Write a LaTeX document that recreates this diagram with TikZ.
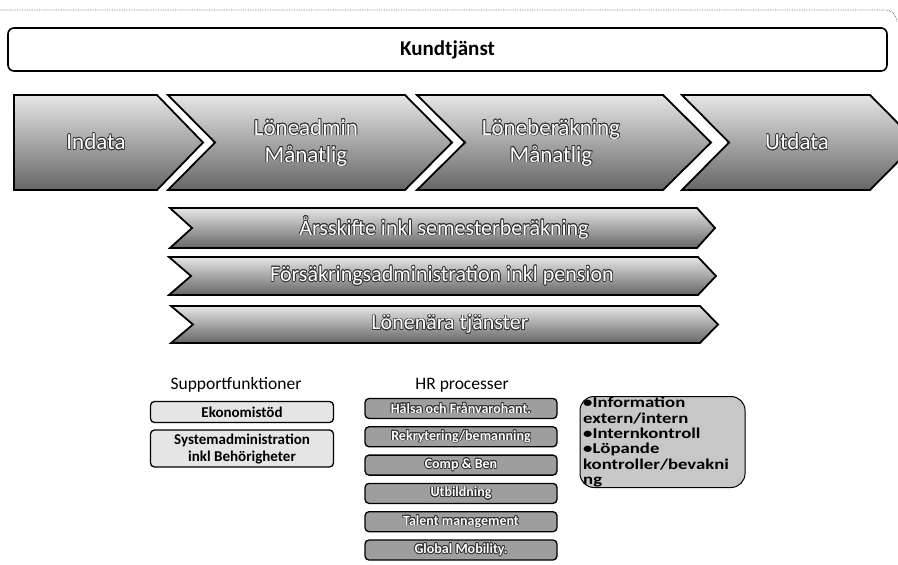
\documentclass[tikz,border=0pt]{standalone}
\usepackage{fontspec}
\setmainfont{Carlito}
\newfontfamily\bredfont[FakeStretch=1.25]{Carlito}
\usepackage[copies]{contour}
\contourlength{0.7pt}
\usetikzlibrary{shapes,backgrounds,calc}

\newcommand{\kont}[1]{\contour{black!80}{#1}}

\tikzset{
	pil/.style={draw=black, line width=1.8pt, line join=miter, top color=black!10, bottom color=black!60},
	piltext/.style={text=white, align=center, font=\fontsize{23}{27}\selectfont},
	bartext/.style={text=white, font=\fontsize{22}{26}\selectfont},
	rubrik/.style={font=\fontsize{17.5}{20}\selectfont},
	stodbox/.style={draw, line width=1.3pt, rounded corners=4pt, fill=black!10, minimum width=183pt, align=center, inner sep=1pt, font=\bfseries\fontsize{15}{17}\selectfont},
	hrbox/.style={draw, line width=1.3pt, rounded corners=4pt, fill=black!38, minimum width=192pt, minimum height=20pt, inner sep=1pt, text=white, font=\bfseries\fontsize{14}{16}\selectfont},
}

\begin{document}
\begin{tikzpicture}[x=1pt,y=-1pt]
	\useasboundingbox (0,0) rectangle (898,565);
	
	\draw[black!60, densely dotted, line width=0.7pt] (0,10) -- (884,10) .. controls (892,10) and (896,14) .. (897,22);
	
	\node[draw, line width=1.6pt, rounded corners=6pt, minimum width=879pt, minimum height=43pt, font=\bfseries\fontsize{21}{24}\selectfont] (kund) at (447.5,49.5) {Kundtjänst};
	
	% processkedjan
	\draw[pil] (14,95) -- (157,95) -- (203,142.5) -- (157,190) -- (14,190) -- cycle;
	\draw[pil] (168,95) -- (405,95) -- (452,142.5) -- (405,190) -- (168,190) -- (215,142.5) -- cycle;
	\draw[pil] (417,95) -- (663,95) -- (711,142.5) -- (663,190) -- (417,190) -- (465,142.5) -- cycle;
	\draw[pil] (682,95) -- (870,95) -- (917,142.5) -- (870,190) -- (682,190) -- (729,142.5) -- cycle;
	
		\node[piltext] (indata) at (96,142) {\kont{Indata}};
		\node[piltext] (loneadmin) at (306,143) {\kont{Löneadmin}\\\kont{Månatlig}};
		\node[piltext] (loneber) at (551,143) {\kont{Löneberäkning}\\\kont{Månatlig}};
		\node[piltext] (utdata) at (797,142) {\kont{Utdata}};
	
	% langa pilar
	\draw[pil] (170,208) -- (697,208) -- (715,228) -- (697,248) -- (170,248) -- (192,228) -- cycle;
	\draw[pil] (169,257) -- (698,257) -- (716,276) -- (698,295) -- (169,295) -- (191,276) -- cycle;
	\draw[pil] (171,306) -- (700,306) -- (718,324.5) -- (700,343) -- (171,343) -- (193,324.5) -- cycle;
	
		\node[bartext] (arsskifte) at (444,228) {\kont{Årsskifte inkl semesterberäkning}};
		\node[bartext] (forsakring) at (442,276) {\kont{Försäkringsadministration inkl pension}};
		\node[bartext] (lonenara) at (450,324.5) {\kont{Lönenära tjänster}};
	
	% support
	\node[rubrik] (support) at (236,385) {Supportfunktioner};
	\node[stodbox, minimum height=21pt] (ekonomi) at (242,412) {Ekonomistöd};
	\node[stodbox, minimum height=37pt] (sysadm) at (242,448.5) {Systemadministration\\inkl Behörigheter};
	
	% HR
	\node[rubrik] (hr) at (462,385) {HR processer};
	\foreach \txt [count=\i] in {Hälsa och Frånvarohant., Rekrytering/bemanning, Comp \& Ben, Utbildning, Talent management, Global Mobility.}
		\node[hrbox] (hr\i) at (461,{408.5+28.3*(\i-1)}) {\kont{\txt}};
	
	% ovrigt
	\node[draw, line width=1pt, rounded corners=14pt, fill=black!22, minimum width=165pt, minimum height=91pt] (ovrigt) at (662.5,442) {};
	\node[anchor=north west, align=left, inner sep=0pt, font=\bredfont\bfseries\fontsize{15}{15.4}\selectfont] (ovrigttext) at (583,397) {•Information\\extern/intern\\•Internkontroll\\•Löpande\\kontroller/bevakni\\ng};
	
\end{tikzpicture}
\end{document}
